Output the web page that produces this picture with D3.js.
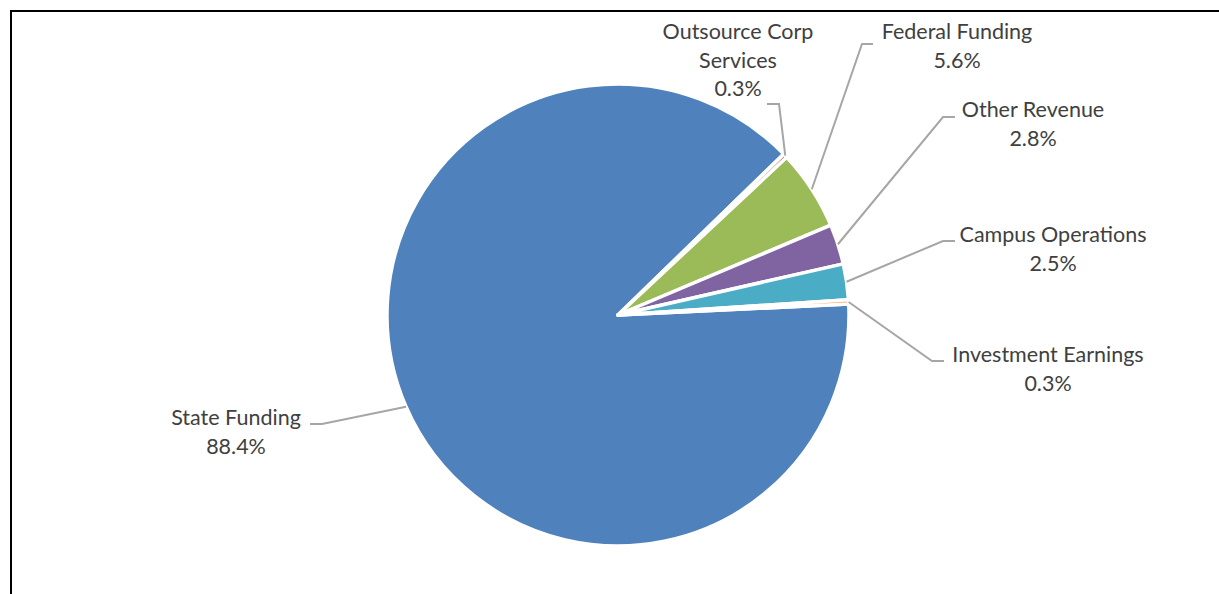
<!DOCTYPE html>
<html>
<head>
<meta charset="utf-8">
<script src="https://cdn.jsdelivr.net/npm/d3@7"></script>
<style>
  html, body { margin: 0; padding: 0; background: #fff; }
  svg { display: block; }
</style>
</head>
<body>
<svg id="chart"></svg>
<script>
// Revenue share by source (percent)
const categories = [
  "State Funding",
  "Outsource Corp Services",
  "Federal Funding",
  "Other Revenue",
  "Campus Operations",
  "Investment Earnings"
];
const shares = [88.4, 0.3, 5.6, 2.8, 2.5, 0.3];
const labelLines = [
  ["State Funding"],
  ["Outsource Corp", "Services"],
  ["Federal Funding"],
  ["Other Revenue"],
  ["Campus Operations"],
  ["Investment Earnings"]
];
const sliceColors = ["#4F81BD", "#C0504D", "#9BBB59", "#8064A2", "#4BACC6", "#F79646"];

// hand-placed label layout (relative to pie centre), like the Excel original
const labelLayout = [
  { elbow: [-296, 109], end: [-308, 109], text: [-382, 102] },
  { elbow: [161, -211], end: [149, -211], text: [120, -284] },
  { elbow: [244, -271], end: [255, -271], text: [339, -284] },
  { elbow: [325, -198], end: [337, -198], text: [415, -206] },
  { elbow: [325, -74], end: [337, -74], text: [435, -81] },
  { elbow: [314, 46], end: [326, 46], text: [430, 39] }
];

const width = 1219, height = 594;
const cx = 618, cy = 315, radius = 231;
const lineGap = 28.5;

const svg = d3.select("#chart")
  .attr("width", width)
  .attr("height", height)
  .attr("viewBox", `0 0 ${width} ${height}`);

// chart frame (only top/left visible in the crop)
svg.append("rect")
  .attr("x", 11).attr("y", 11)
  .attr("width", width + 20).attr("height", height + 20)
  .attr("fill", "none")
  .attr("stroke", "#000")
  .attr("stroke-width", 2);

const data = categories.map((name, i) => ({ name, value: shares[i], i }));

const startDeg = 87.3;
const pie = d3.pie()
  .sort(null)
  .value((d) => d.value)
  .startAngle(startDeg * Math.PI / 180)
  .endAngle(startDeg * Math.PI / 180 + 2 * Math.PI);

const arcs = pie(data);
const arc = d3.arc().innerRadius(0).outerRadius(radius);

const g = svg.append("g").attr("transform", `translate(${cx},${cy})`);

g.selectAll("path.slice")
  .data(arcs)
  .enter()
  .append("path")
  .attr("class", "slice")
  .attr("d", arc)
  .attr("fill", (d) => sliceColors[d.data.i])
  .attr("stroke", "#fff")
  .attr("stroke-width", 3.5)
  .attr("stroke-linejoin", "round");

// leader lines: start on the outer arc at the slice's mid angle
const leaders = g.append("g").attr("class", "leaders");
arcs.forEach((d) => {
  const mid = (d.startAngle + d.endAngle) / 2;
  const p0 = [radius * Math.sin(mid), -radius * Math.cos(mid)];
  const lay = labelLayout[d.data.i];
  leaders.append("polyline")
    .attr("points", [p0, lay.elbow, lay.end].map((p) => p.join(",")).join(" "))
    .attr("fill", "none")
    .attr("stroke", "#A6A6A6")
    .attr("stroke-width", 2);
});

const fmt = d3.format(".1f");
const labels = g.append("g").attr("class", "labels")
  .style("font-family", "Lato, 'Open Sans', sans-serif")
  .style("font-size", "21.5px")
  .attr("fill", "#404040")
  .attr("text-anchor", "middle");

arcs.forEach((d) => {
  const lay = labelLayout[d.data.i];
  const lines = labelLines[d.data.i].concat([fmt(d.data.value) + "%"]);
  const t = labels.append("text")
    .attr("x", lay.text[0])
    .attr("y", lay.text[1])
    .attr("dominant-baseline", "central");
  lines.forEach((ln, k) => {
    t.append("tspan")
      .attr("x", lay.text[0])
      .attr("y", lay.text[1] + k * lineGap)
      .text(ln);
  });
});
</script>
</body>
</html>
